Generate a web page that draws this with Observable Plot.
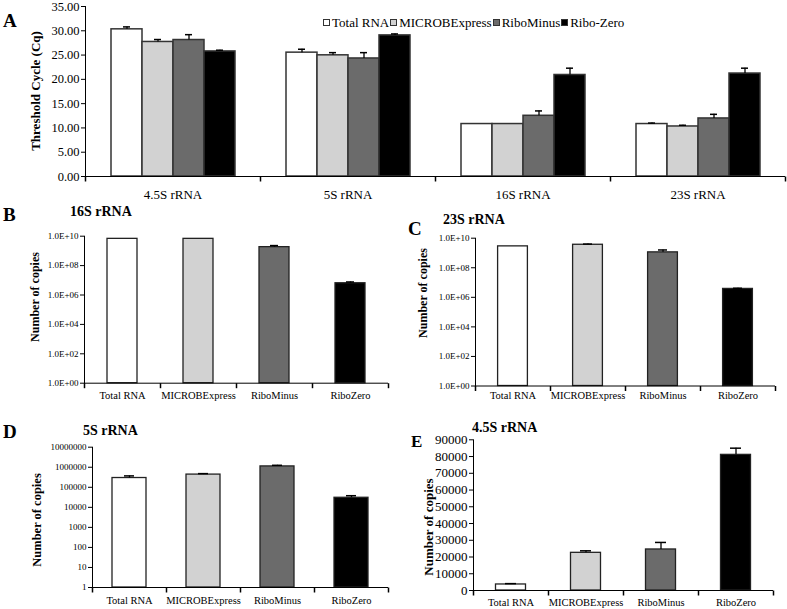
<!DOCTYPE html>
<html><head><meta charset="utf-8">
<script src="https://cdn.jsdelivr.net/npm/d3@7"></script>
<script src="https://cdn.jsdelivr.net/npm/@observablehq/plot@0.6"></script>
<style>
body{margin:0;background:#fff;}
#root{position:relative;width:787px;height:609px;overflow:hidden;font-family:"Liberation Serif","Times New Roman",Times,serif;color:#000;}
.abs{position:absolute;white-space:nowrap;line-height:1;}
.letter{font-weight:bold;}
.title{font-weight:bold;font-size:14px;}
.ytitle{font-weight:bold;transform:translate(-50%,-50%) rotate(-90deg);}
.legend{display:flex;align-items:center;font-size:13px;}
.sw{display:inline-block;width:5px;height:5px;border:1px solid #333;margin-right:2px;}
.lt{margin-right:1px;}
svg{overflow:visible;}
</style></head><body><div id="root"></div>
<script>
// ---------- Panel A data ----------
const catsA = ["4.5S rRNA", "5S rRNA", "16S rRNA", "23S rRNA"];
const seriesA = ["Total RNA", "MICROBExpress", "RiboMinus", "Ribo-Zero"];
const cqTotal  = [30.3, 25.5, 10.8, 10.8];
const cqMicrob = [27.7, 24.95, 10.8, 10.3];
const cqMinus  = [28.1, 24.3, 12.5, 11.95];
const cqZero   = [25.75, 29.05, 20.9, 21.2];
const errTotal  = [0.5, 0.7, 0, 0.2];
const errMicrob = [0.5, 0.55, 0, 0.25];
const errMinus  = [1.1, 1.2, 1.0, 0.85];
const errZero   = [0.25, 0.3, 1.4, 1.1];
const ticksA = [0, 5, 10, 15, 20, 25, 30, 35];
const tickLabelsA = ["0.00", "5.00", "10.00", "15.00", "20.00", "25.00", "30.00", "35.00"];
const yTitleA = "Threshold Cycle (Cq)";

// ---------- Panels B-E data ----------
const kits = ["Total RNA", "MICROBExpress", "RiboMinus", "RiboZero"];
const copies16S = [6.6e9, 6.6e9, 1.8e9, 6.3e6];
const err16S    = [0, 0, 0.5e9, 1.4e6];
const copies23S = [2.8e9, 3.6e9, 1.1e9, 3.7e6];
const err23S    = [0, 0.4e9, 0.5e9, 0.4e6];
const copies5S  = [2.9e5, 4.3e5, 1.1e6, 3.0e4];
const err5S     = [0.8e5, 0.5e5, 0.15e6, 0.8e4];
const copies45S = [3600, 22500, 24500, 81000];
const err45S    = [500, 1200, 4200, 4000];
const ticksSci = [1, 1e2, 1e4, 1e6, 1e8, 1e10];
const tickLabelsSci = ["1.0E+00", "1.0E+02", "1.0E+04", "1.0E+06", "1.0E+08", "1.0E+10"];
const ticksD = [1, 10, 100, 1000, 10000, 100000, 1000000, 10000000];
const tickLabelsD = ["1", "10", "100", "1000", "10000", "100000", "1000000", "10000000"];
const ticksE = [0, 10000, 20000, 30000, 40000, 50000, 60000, 70000, 80000, 90000];
const tickLabelsE = ["0", "10000", "20000", "30000", "40000", "50000", "60000", "70000", "80000", "90000"];
const yTitleCopies = "Number of copies";
const panelLetters = ["A", "B", "C", "D", "E"];
const panelTitles = ["16S rRNA", "23S rRNA", "5S rRNA", "4.5S rRNA"];

const fills = ["#ffffff", "#d2d2d2", "#6b6b6b", "#000000"];
const serif = "'Liberation Serif','Times New Roman',Times,serif";
const root = document.getElementById("root");
const tickSym = {draw(ctx) { ctx.moveTo(0, 0); ctx.lineTo(0, 5); }};

function place(el, left, top) {
  el.style.position = "absolute";
  el.style.left = left + "px";
  el.style.top = top + "px";
  root.appendChild(el);
}
function fmtFrom(ticks, labels) { return d => labels[ticks.indexOf(d)]; }

// ---------- Panel A ----------
const valsA = [cqTotal, cqMicrob, cqMinus, cqZero];
const errsA = [errTotal, errMicrob, errMinus, errZero];
const rowsA = [];
seriesA.forEach((s, j) => catsA.forEach((c, i) => rowsA.push({cat: c, s, v: valsA[j][i], e: errsA[j][i], top: valsA[j][i] + errsA[j][i]})));
const errRowsA = rowsA.filter(d => d.e > 0);

const svgA = Plot.plot({
  width: 787, height: 204, marginLeft: 83, marginRight: 1, marginTop: 6, marginBottom: 28,
  style: {fontFamily: serif, background: "transparent", color: "#000"},
  fx: {domain: catsA, padding: 0, label: null},
  x: {domain: seriesA, paddingInner: 0, paddingOuter: 0.75, axis: null},
  y: {domain: [0, 35], label: null},
  color: {domain: seriesA, range: fills},
  marks: [
    Plot.barY(rowsA, {fx: "cat", x: "s", y: "v", fill: "s", stroke: "#333", strokeWidth: 1.5}),
    Plot.ruleX(errRowsA, {fx: "cat", x: "s", y1: "v", y2: "top", stroke: "#000", strokeWidth: 1.3}),
    Plot.tickY(errRowsA, {fx: "cat", x: "s", y: "top", stroke: "#000", strokeWidth: 1.5, insetLeft: 12, insetRight: 12}),
    Plot.ruleY([0], {stroke: "#000"}),
    Plot.frame({anchor: "left", facetAnchor: "left", stroke: "#000"}),
    Plot.dot(catsA, {fx: d => d, frameAnchor: "bottom-left", symbol: tickSym, stroke: "#000", fill: "none"}),
    Plot.dot([catsA[catsA.length - 1]], {fx: d => d, frameAnchor: "bottom-right", symbol: tickSym, stroke: "#000", fill: "none"}),
    Plot.axisY({ticks: ticksA, tickFormat: fmtFrom(ticksA, tickLabelsA), tickSize: 4, tickPadding: 2, fontSize: 12.5, label: null}),
    Plot.axisFx({anchor: "bottom", tickSize: 0, tickPadding: 13, fontSize: 13, label: null})
  ]
});
place(svgA, 0, 0);

// ---------- Panels B-E ----------
function panel({vals, errs, type, domain, ticks, labels, base, width, height, mL, mR, mT, mB, barInset, capInset, tickFont, catFont, catPad}) {
  const rows = kits.map((k, i) => ({cat: k, v: vals[i], e: errs[i], top: vals[i] + errs[i]}));
  const errRows = rows.filter(d => d.e > 0);
  return Plot.plot({
    width, height, marginLeft: mL, marginRight: mR, marginTop: mT, marginBottom: mB,
    style: {fontFamily: serif, background: "transparent", color: "#000"},
    fx: {domain: kits, padding: 0, label: null},
    y: {type, domain, label: null},
    color: {domain: kits, range: fills},
    marks: [
      Plot.barY(rows, {fx: "cat", y1: () => base, y2: "v", fill: "cat", stroke: "#222", strokeWidth: 1.3, insetLeft: barInset, insetRight: barInset}),
      Plot.ruleX(errRows, {fx: "cat", x: null, y1: "v", y2: "top", stroke: "#000", strokeWidth: 1.3}),
      Plot.tickY(errRows, {fx: "cat", y: "top", stroke: "#000", strokeWidth: 1.5, insetLeft: capInset, insetRight: capInset}),
      Plot.ruleY([base], {stroke: "#000"}),
      Plot.frame({anchor: "left", facetAnchor: "left", stroke: "#000"}),
      Plot.dot(kits, {fx: d => d, frameAnchor: "bottom-left", symbol: tickSym, stroke: "#000", fill: "none"}),
      Plot.dot([kits[kits.length - 1]], {fx: d => d, frameAnchor: "bottom-right", symbol: tickSym, stroke: "#000", fill: "none"}),
      Plot.axisY({ticks, tickFormat: fmtFrom(ticks, labels), tickSize: 4, tickPadding: 2, fontSize: tickFont, label: null}),
      Plot.axisFx({anchor: "bottom", tickSize: 0, tickPadding: catPad, fontSize: catFont, label: null})
    ]
  });
}

place(panel({vals: copies16S, errs: err16S, type: "log", domain: [1, 1e10], ticks: ticksSci, labels: tickLabelsSci, base: 1,
  width: 390, height: 183, mL: 84, mR: 2, mT: 10.7, mB: 25.3, barInset: 23, capInset: 34, tickFont: 9, catFont: 10.5, catPad: 8}), 0, 225);
place(panel({vals: copies23S, errs: err23S, type: "log", domain: [1, 1e10], ticks: ticksSci, labels: tickLabelsSci, base: 1,
  width: 397, height: 184, mL: 84, mR: 12, mT: 12.7, mB: 23.5, barInset: 22.6, capInset: 33, tickFont: 9, catFont: 10.5, catPad: 6}), 390, 225);
place(panel({vals: copies5S, errs: err5S, type: "log", domain: [1, 1e7], ticks: ticksD, labels: tickLabelsD, base: 1,
  width: 390, height: 174, mL: 91, mR: 2, mT: 11.7, mB: 22, barInset: 20, capInset: 32, tickFont: 9, catFont: 10.5, catPad: 9.5}), 0, 435);
place(panel({vals: copies45S, errs: err45S, type: "linear", domain: [0, 90000], ticks: ticksE, labels: tickLabelsE, base: 0,
  width: 397, height: 179, mL: 83, mR: 14, mT: 9.3, mB: 19, barInset: 22.5, capInset: 32, tickFont: 13, catFont: 10.5, catPad: 8}), 390, 430);

// ---------- Text overlays ----------
function txt(cls, text, left, top, extra) {
  const d = document.createElement("div");
  d.className = "abs " + cls;
  d.textContent = text;
  if (extra) Object.assign(d.style, extra);
  place(d, left, top);
  return d;
}
txt("letter", panelLetters[0], 3, 11, {fontSize: "19px"});
txt("letter", panelLetters[1], 3, 205, {fontSize: "19px"});
txt("letter", panelLetters[2], 408, 219, {fontSize: "19px"});
txt("letter", panelLetters[3], 3, 422, {fontSize: "19px"});
txt("letter", panelLetters[4], 411, 433, {fontSize: "17px"});

txt("title", panelTitles[0], 70, 205);
txt("title", panelTitles[1], 443, 213);
txt("title", panelTitles[2], 83, 424);
txt("title", panelTitles[3], 472, 421);

txt("ytitle", yTitleA, 35, 91, {fontSize: "13px"});
txt("ytitle", yTitleCopies, 35, 297, {fontSize: "12px"});
txt("ytitle", yTitleCopies, 423, 293, {fontSize: "12px"});
txt("ytitle", yTitleCopies, 37, 520, {fontSize: "12.5px"});
txt("ytitle", yTitleCopies, 428, 527, {fontSize: "13px"});

// legend
const lg = document.createElement("div");
lg.className = "abs legend";
seriesA.forEach((s, i) => {
  const sw = document.createElement("span");
  sw.className = "sw";
  sw.style.background = fills[i];
  const t = document.createElement("span");
  t.className = "lt";
  t.textContent = s;
  lg.appendChild(sw); lg.appendChild(t);
});
place(lg, 323, 16);
</script></body></html>
